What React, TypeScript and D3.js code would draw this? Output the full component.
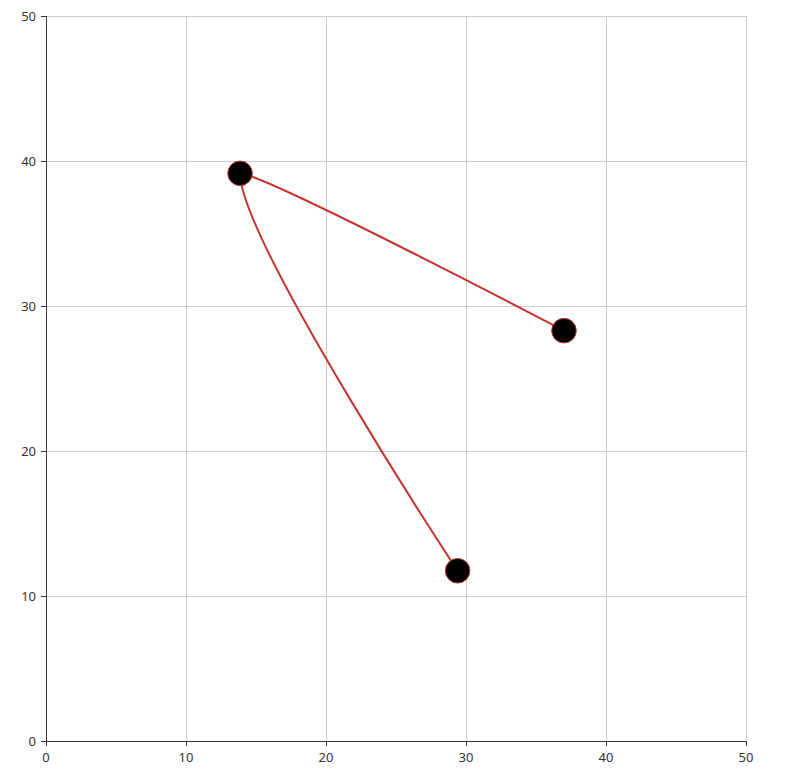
import React from "react";
import * as d3 from "d3";

const pointX: number[] = [37.0, 13.86, 29.4];
const pointY: number[] = [28.3, 39.15, 11.74];
const xTicks: number[] = [0, 10, 20, 30, 40, 50];
const yTicks: number[] = [0, 10, 20, 30, 40, 50];

const W = 805;
const H = 770;
const M = { left: 46, right: 59, top: 16, bottom: 29 };
const RED = "#c23531";
const AXIS = "#333";
const GRID = "#ccc";
const FONT = "'Noto Sans', 'DejaVu Sans', sans-serif";

function smoothPath(pts: [number, number][], smooth: number): string {
  // bounding-box constrained smoothing
  const xs = pts.map((p) => p[0]);
  const ys = pts.map((p) => p[1]);
  const minX = Math.min(...xs), maxX = Math.max(...xs);
  const minY = Math.min(...ys), maxY = Math.max(...ys);
  const clamp = (p: [number, number]): [number, number] => [
    Math.max(minX, Math.min(maxX, p[0])),
    Math.max(minY, Math.min(maxY, p[1])),
  ];
  const path = d3.path();
  let cp0: [number, number] = [pts[0][0], pts[0][1]];
  path.moveTo(pts[0][0], pts[0][1]);
  for (let i = 1; i < pts.length; i++) {
    const p = pts[i];
    const prev = pts[i - 1];
    const next = pts[i + 1];
    let cp1: [number, number];
    let v: [number, number] = [0, 0];
    let ratio = 0.5;
    if (!next) {
      cp1 = [p[0], p[1]];
    } else {
      v = [next[0] - prev[0], next[1] - prev[1]];
      const lp = Math.hypot(p[0] - prev[0], p[1] - prev[1]);
      const ln = Math.hypot(next[0] - p[0], next[1] - p[1]);
      ratio = ln / (ln + lp);
      cp1 = [p[0] - v[0] * smooth * (1 - ratio), p[1] - v[1] * smooth * (1 - ratio)];
    }
    const c0 = clamp(cp0);
    const c1 = clamp(cp1);
    path.bezierCurveTo(c0[0], c0[1], c1[0], c1[1], p[0], p[1]);
    cp0 = [p[0] + v[0] * smooth * ratio, p[1] + v[1] * smooth * ratio];
  }
  return path.toString();
}

export default function App() {
  const x = d3.scaleLinear().domain([0, 50]).range([M.left, W - M.right]);
  const y = d3.scaleLinear().domain([0, 50]).range([H - M.bottom, M.top]);
  const pts: [number, number][] = pointX.map((v, i) => [x(v), y(pointY[i])]);
  const d = smoothPath(pts, 0.5);
  const x0 = x(0), y0 = y(0);

  return (
    <div style={{ position: "absolute", left: 0, top: 0 }}>
      <svg width={W} height={H} style={{ display: "block", background: "#fff" }}>
        {/* grid */}
        {xTicks.filter((t) => t !== 0).map((t) => (
          <line key={"gx" + t} x1={x(t)} x2={x(t)} y1={y(50)} y2={y0} stroke={GRID} strokeWidth={1} shapeRendering="crispEdges" />
        ))}
        {yTicks.filter((t) => t !== 0).map((t) => (
          <line key={"gy" + t} x1={x0} x2={x(50)} y1={y(t)} y2={y(t)} stroke={GRID} strokeWidth={1} shapeRendering="crispEdges" />
        ))}
        {/* axes */}
        <line x1={x0} x2={x(50)} y1={y0} y2={y0} stroke={AXIS} strokeWidth={1} shapeRendering="crispEdges" />
        <line x1={x0} x2={x0} y1={y(50)} y2={y0} stroke={AXIS} strokeWidth={1} shapeRendering="crispEdges" />
        {xTicks.map((t) => (
          <g key={"tx" + t}>
            <line x1={x(t)} x2={x(t)} y1={y0} y2={y0 + 5} stroke={AXIS} shapeRendering="crispEdges" />
            <text x={x(t)} y={y0 + 21} textAnchor="middle" fontSize={13} fill={AXIS} fontFamily={FONT}>{t}</text>
          </g>
        ))}
        {yTicks.map((t) => (
          <g key={"ty" + t}>
            <line x1={x0 - 5} x2={x0} y1={y(t)} y2={y(t)} stroke={AXIS} shapeRendering="crispEdges" />
            <text x={x0 - 10} y={y(t)} dy="0.35em" textAnchor="end" fontSize={13} fill={AXIS} fontFamily={FONT}>{t}</text>
          </g>
        ))}
        {/* line */}
        <path d={d} fill="none" stroke={RED} strokeWidth={2} />
        {pts.map((p, i) => (
          <circle key={"c" + i} cx={p[0]} cy={p[1]} r={12.3} fill="#000" stroke={RED} strokeWidth={1} />
        ))}
      </svg>
    </div>
  );
}
